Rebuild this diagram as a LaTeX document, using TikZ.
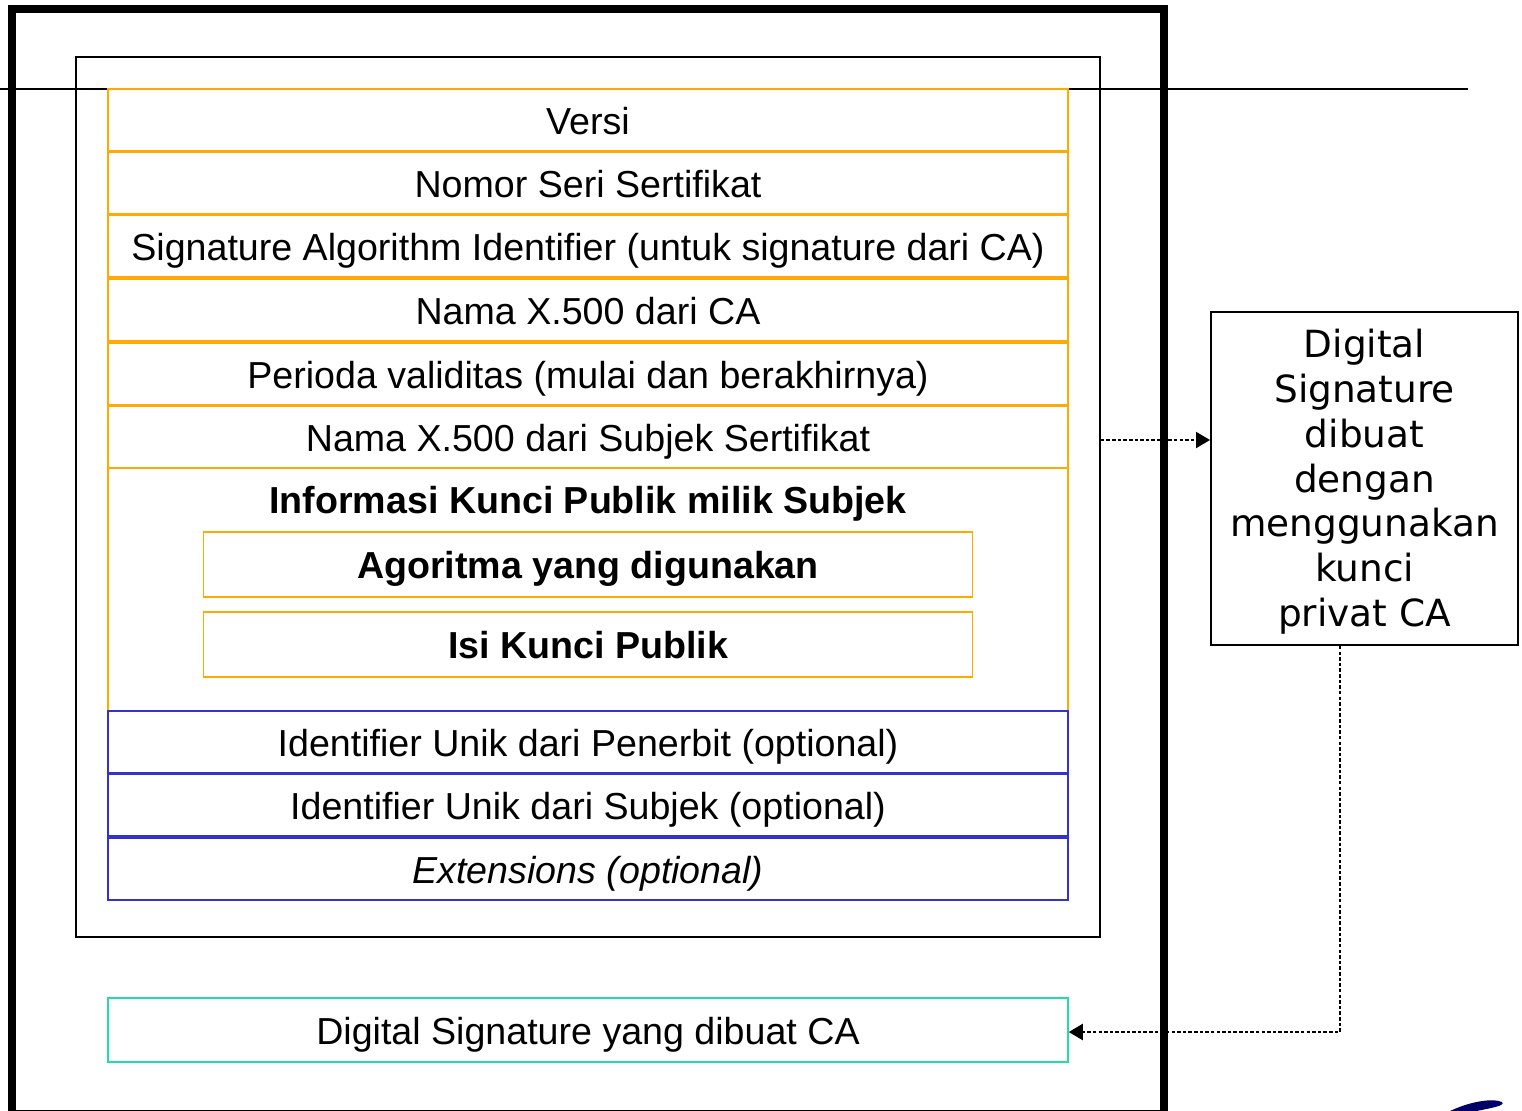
\documentclass[tikz,border=0pt]{standalone}
\usepackage{fontspec}
\setmainfont{Liberation Sans}
\newfontfamily\sigfont{DejaVu Sans}
\usetikzlibrary{arrows.meta,calc}
\definecolor{fieldline}{HTML}{FFAA00}
\definecolor{optline}{HTML}{3333CC}
\definecolor{signline}{HTML}{22DDAA}
\definecolor{logoblue}{HTML}{000066}

\begin{document}
\begin{tikzpicture}[x=0.02cm, y=-0.02cm,
    field/.style={draw=fieldline, line width=0.9pt, fill=white, minimum width=19.2cm,
                  minimum height=1.24cm, inner sep=0pt, text height=17pt, text depth=0.8pt,
                  font=\fontsize{21.4}{25}\selectfont},
    optfield/.style={field, draw=optline},
    keyfield/.style={field, minimum width=15.38cm, minimum height=1.3cm, font=\fontsize{21.4}{25}\selectfont\bfseries},
    link/.style={line width=1.5pt, dash pattern=on 2pt off 1.2pt, -{Triangle[length=8pt, width=9pt]}}
  ]
  \useasboundingbox (0,0) rectangle (1522,1110);

  % frames
  \draw[line width=4.5pt] (12,9) rectangle (1164,1114);
  \node[draw, line width=1.1pt, minimum width=20.48cm, minimum height=17.6cm, inner sep=0pt] (cert) at (588,497) {};
  \draw[line width=1.1pt] (0,89) -- (1468,89);

  % certificate fields
  \node[field] (versi) at (588,120) {Versi};
  \node[field] (seri) at (588,183) {Nomor Seri Sertifikat};
  \node[field] (algo) at (588,246) {Signature Algorithm Identifier (untuk signature dari CA)};
  \node[field] (nca) at (588,310) {Nama X.500 dari CA};
  \node[field] (valid) at (588,374) {Perioda validitas (mulai dan berakhirnya)};
  \node[field] (nsub) at (588,437) {Nama X.500 dari Subjek Sertifikat};

  \node[field, minimum height=4.86cm] (pubkey) at (588,589.5) {};
  \node[font=\fontsize{21.4}{25}\selectfont\bfseries, text height=17pt, text depth=4.5pt] (pktitle) at (588,503) {Informasi Kunci Publik milik Subjek};
  \node[keyfield] (pkalgo) at (588,564.5) {Agoritma yang digunakan};
  \node[keyfield] (pkisi) at (588,644.5) {Isi Kunci Publik};

  \node[optfield] (uidp) at (588,742) {Identifier Unik dari Penerbit (optional)};
  \node[optfield] (uids) at (588,805) {Identifier Unik dari Subjek (optional)};
  \node[optfield] (ext) at (588,869) {\itshape Extensions (optional)};

  \node[field, draw=signline, minimum height=1.28cm] (dsig) at (588,1030) {Digital Signature yang dibuat CA};

  % signing box
  \node[draw, line width=1.1pt, minimum width=6.14cm, minimum height=6.66cm, align=center,
        font=\sigfont\fontsize{21.3}{25.5}\selectfont, inner sep=0pt] (sign) at (1364.5,478.5)
        {\\[-0.2cm]Digital\\Signature\\dibuat\\dengan\\menggunakan\\kunci\\privat CA};

  \draw[link] (nsub.east -| cert.east) ++(0,3) -- ($(nsub.east -| sign.west)+(0,3)$);
  \draw[link] ([xshift=-0.49cm]sign.south) |- ($(dsig.east)+(0,2)$);

  % logo corner
  \fill[logoblue] (1448,1112) .. controls (1470,1101) and (1493,1098) .. (1502,1102)
    .. controls (1506,1106) and (1490,1108) .. (1472,1112) -- cycle;
\end{tikzpicture}
\end{document}
